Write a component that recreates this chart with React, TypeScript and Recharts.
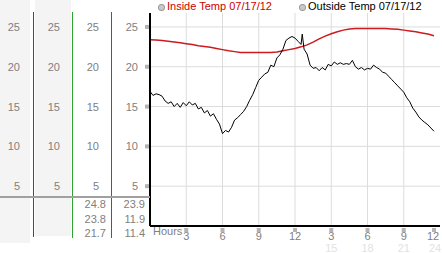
import React from 'react';
import { ComposedChart, Line, XAxis, YAxis, CartesianGrid } from 'recharts';

// Outside temperature, every quarter hour
const outsideHours = [
  0, 0.25, 0.5, 0.75, 1, 1.25, 1.5, 1.75, 2, 2.25, 2.5, 2.75, 3, 3.25, 3.5, 3.75,
  4, 4.25, 4.5, 4.75, 5, 5.25, 5.5, 5.75, 6, 6.25, 6.5, 6.75, 7, 7.25, 7.5, 7.75,
  8, 8.25, 8.5, 8.75, 9, 9.25, 9.5, 9.75, 10, 10.25, 10.5, 10.75, 11, 11.25, 11.5, 11.75,
  12, 12.25, 12.5, 12.6, 12.75, 13, 13.25, 13.5, 13.75, 14, 14.25, 14.5, 14.75, 15, 15.25,
  15.5, 15.75, 16, 16.25, 16.5, 16.75, 17, 17.25, 17.5, 17.75, 18, 18.25, 18.5, 18.75,
  19, 19.25, 19.5, 19.75, 20, 20.25, 20.5, 20.75, 21, 21.25, 21.5, 21.75, 22, 22.25,
  22.5, 22.75, 23, 23.25, 23.5,
];
const outsideTemps = [
  16.9, 16.4, 16.6, 16.5, 16.3, 15.7, 15.4, 15.6, 15.0, 15.4, 14.9, 15.5, 15.1, 15.6, 15.2, 15.4,
  14.7, 14.9, 14.2, 14.5, 13.8, 14.1, 13.4, 12.8, 11.6, 12.0, 11.8, 12.4, 13.3, 13.6, 14.0, 14.4,
  15.0, 15.8, 16.5, 17.4, 18.3, 18.7, 19.1, 19.3, 20.2, 20.0, 21.1, 21.5, 22.2, 23.3, 23.6, 23.8,
  23.6, 23.2, 22.8, 24.1, 22.2, 21.6, 20.2, 19.8, 19.9, 19.5, 19.9, 19.6, 20.3, 20.1, 20.6,
  20.3, 20.5, 20.3, 20.4, 20.3, 20.8, 20.0, 19.7, 19.9, 19.6, 19.8, 19.7, 20.2, 19.9,
  19.7, 19.3, 19.2, 18.8, 18.4, 18.0, 17.6, 17.2, 16.8, 16.1, 15.6, 14.8, 14.3, 13.7,
  13.3, 13.0, 12.7, 12.3, 11.9,
];

// Inside temperature, every half hour
const insideHours = [
  0, 0.5, 1, 1.5, 2, 2.5, 3, 3.5, 4, 4.5, 5, 5.5, 6, 6.5, 7, 7.5, 8, 8.5, 9, 9.5, 10, 10.5,
  11, 11.5, 12, 12.5, 13, 13.5, 14, 14.5, 15, 15.5, 16, 16.5, 17, 17.5, 18, 18.5, 19, 19.5,
  20, 20.5, 21, 21.5, 22, 22.5, 23, 23.5,
];
const insideTemps = [
  23.4, 23.35, 23.3, 23.2, 23.1, 23.0, 22.9, 22.8, 22.65, 22.55, 22.45, 22.3, 22.15, 22.0,
  21.9, 21.8, 21.8, 21.8, 21.8, 21.8, 21.8, 21.85, 22.0, 22.15, 22.3, 22.5, 22.75, 23.1,
  23.5, 23.85, 24.15, 24.4, 24.6, 24.75, 24.8, 24.8, 24.8, 24.8, 24.8, 24.8, 24.75, 24.7,
  24.6, 24.5, 24.4, 24.25, 24.1, 23.9,
];

const yTicks = [5, 10, 15, 20, 25];
const hourTicks = [3, 6, 9, 12, 15, 18, 21, 24];
const hourLabels = ['3', '6', '9', '12', '3', '6', '9', '12'];
const hourLabels24 = ['', '', '', '', '15', '18', '21', '24'];
const insideStats = ['24.8', '23.8', '21.7'];
const outsideStats = ['23.9', '11.9', '11.4'];

const outsideData = outsideHours.map((h, i) => ({ h, t: outsideTemps[i] }));
const insideData = insideHours.map((h, i) => ({ h, t: insideTemps[i] }));

const FONT = '"Liberation Sans", Arial, sans-serif';

// the same scale is repeated in four columns: offsets from the rightmost label
const columnShifts = [0, -39, -78, -118];

const YTick = (props: any) => {
  const { x, y, payload } = props;
  return (
    <g>
      {columnShifts.map((dx) => (
        <text key={dx} x={x + dx} y={y} dy="0.36em" textAnchor="end" fontSize={11} fontFamily={FONT} fill="#808080">
          {payload.value}
        </text>
      ))}
      <rect x={x + 7} y={y - 2} width={4} height={4} fill="#b4b4b4" />
    </g>
  );
};

const XTick = (props: any) => {
  const { x, index } = props;
  const last = index === hourTicks.length - 1;
  return (
    <g>
      <rect x={x - 2 - (last ? 6 : 0)} y={228} width={4} height={4} fill="#b4b4b4" />
      <text x={x - (last ? 7 : 0)} y={240} textAnchor="middle" fontSize={11} fontFamily={FONT} fill="#808080">
        {hourLabels[index]}
      </text>
      <text x={x - (last ? 5 : 0)} y={251.5} textAnchor="middle" fontSize={11} fontFamily={FONT} fill="#e2e2e2">
        {hourLabels24[index]}
      </text>
    </g>
  );
};

const abs = (style: React.CSSProperties): React.CSSProperties => ({ position: 'absolute', ...style });

export default function App() {
  return (
    <div style={{ position: 'absolute', left: 0, top: 0, width: 442, height: 253, background: '#fff', fontFamily: FONT }}>
      {/* column backgrounds */}
      <div style={abs({ left: 0, top: 0, width: 30, height: 243, background: '#f4f4f4' })} />
      <div style={abs({ left: 35, top: 0, width: 36, height: 236, background: '#f4f4f4' })} />

      <div style={abs({ left: 0, top: 0 })}>
        <ComposedChart width={442} height={253} margin={{ top: 13, right: 2, bottom: 0, left: 0 }}>
          <CartesianGrid
            stroke="#dcdcdc"
            verticalValues={[3, 6, 9, 12, 15, 18, 21]}
            horizontalValues={yTicks}
          />
          <XAxis
            type="number"
            dataKey="h"
            domain={[0, 24]}
            ticks={hourTicks}
            height={27}
            tickLine={false}
            tickSize={0}
            axisLine={{ stroke: '#000', strokeWidth: 2 }}
            tick={<XTick />}
            interval={0}
          />
          <YAxis
            type="number"
            domain={[0, 26.75]}
            ticks={yTicks}
            width={150}
            tickLine={false}
            tickSize={0}
            tickMargin={12}
            axisLine={{ stroke: '#000', strokeWidth: 2 }}
            tick={<YTick />}
            interval={0}
            allowDataOverflow
          />
          <Line
            data={insideData}
            dataKey="t"
            type="linear"
            stroke="#cc1a1f"
            strokeWidth={1.5}
            dot={false}
            isAnimationActive={false}
          />
          <Line
            data={outsideData}
            dataKey="t"
            type="linear"
            stroke="#000"
            strokeWidth={1}
            dot={false}
            isAnimationActive={false}
          />
        </ComposedChart>
      </div>

      {/* coloured column rules and separator */}
      <div style={abs({ left: 33, top: 12, width: 1, height: 225, background: '#2448c0' })} />
      <div style={abs({ left: 72, top: 12, width: 1, height: 226, background: '#2fa52f' })} />
      <div style={abs({ left: 111, top: 12, width: 1, height: 226, background: '#c8282e' })} />
      <div style={abs({ left: 0, top: 196, width: 150, height: 2, background: '#a0a0a0' })} />

      {/* max / current / min */}
      {insideStats.map((s, i) => (
        <div key={'in' + i} style={abs({ left: 73, width: 33, top: 197 + i * 14.5, fontSize: 11, lineHeight: '14px', textAlign: 'right', color: '#808080' })}>
          {s}
        </div>
      ))}
      {outsideStats.map((s, i) => (
        <div key={'out' + i} style={abs({ left: 112, width: 33, top: 197 + i * 14.5, fontSize: 11, lineHeight: '14px', textAlign: 'right', color: '#808080' })}>
          {s}
        </div>
      ))}

      <div style={abs({ left: 153, top: 225, fontSize: 11, color: '#808080' })}>Hours</div>

      {/* legend */}
      <div style={abs({ left: 158, top: 0, fontSize: 11, lineHeight: '13px', color: '#cc0000', whiteSpace: 'nowrap' })}>
        <span style={{ display: 'inline-block', width: 5, height: 5, borderRadius: 3, background: '#c8c8c8', border: '1px solid #999', marginRight: 2, verticalAlign: 'middle' }} />
        Inside Temp 07/17/12
      </div>
      <div style={abs({ left: 299, top: 0, fontSize: 11, lineHeight: '13px', color: '#000', whiteSpace: 'nowrap' })}>
        <span style={{ display: 'inline-block', width: 5, height: 5, borderRadius: 3, background: '#c8c8c8', border: '1px solid #999', marginRight: 2, verticalAlign: 'middle' }} />
        Outside Temp 07/17/12
      </div>
    </div>
  );
}
